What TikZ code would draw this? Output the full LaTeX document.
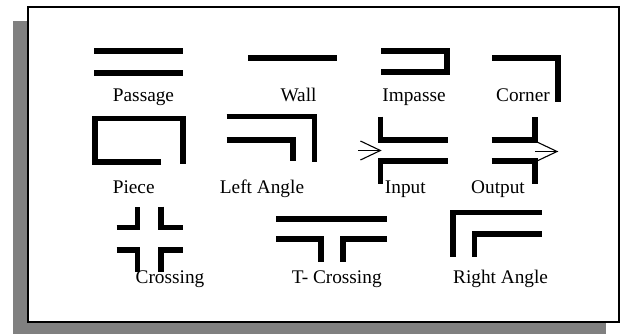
\documentclass[tikz,border=0pt]{standalone}
\usepackage{fontspec}
\setmainfont{Liberation Serif}
\usetikzlibrary{arrows.meta}
\definecolor{shadowgray}{HTML}{808080}
\begin{document}
\begin{tikzpicture}[x=1pt,y=-1pt,
  wallline/.style={line width=5.5pt,line cap=butt,line join=miter},
  lbl/.style={anchor=base,inner sep=0pt,font=\fontsize{19.3}{20}\selectfont},
  flow/.style={line width=1.1pt,-{Straight Barb[length=20pt,width=19pt,line width=1.1pt]}}]
\useasboundingbox (0,0) rectangle (621,334);
% shadow and frame
\fill[shadowgray] (13,21) rectangle (606,334);
\fill[white] (28,7) rectangle (619,322);
\draw[line width=1.6pt] (28,7) rectangle (619,322);
% Passage
\draw[wallline] (94,50.8) -- (183,50.8);
\draw[wallline] (94,72.8) -- (183,72.8);
\node[lbl] (passage) at (143.5,102) {Passage};
% Wall
\draw[wallline] (248,58) -- (336.6,58);
\node[lbl] (wall) at (298.5,102) {Wall};
% Impasse
\draw[wallline] (381,51) -- (447,51) -- (447,72) -- (381,72);
\node[lbl] (impasse) at (414,102) {Impasse};
% Corner
\draw[wallline] (492,58) -- (558,58) -- (558,101.7);
\node[lbl] (corner) at (523,102) {Corner};
% Piece
\draw[wallline] (161,161.8) -- (94.8,161.8) -- (94.8,118.4) -- (182.8,118.4) -- (182.8,164.3);
\node[lbl] (piece) at (133.7,193.5) {Piece};
% Left Angle
\draw[wallline] (226.7,116.5) -- (314.5,116.5) -- (314.5,161.7);
\draw[wallline] (226.7,140) -- (293,140) -- (293,161);
\node[lbl] (leftangle) at (262,193.5) {Left Angle};
% Input
\draw[wallline] (380.5,116.7) -- (380.5,140) -- (447.7,140);
\draw[wallline] (447.7,161.2) -- (380.5,161.2) -- (380.5,183.7);
\coordinate (inA) at (358.3,150.5);
\coordinate (inB) at (381.7,150.5);
\draw[flow] (inA) -- (inB);
\node[lbl] (input) at (405.3,193.5) {Input};
% Output
\draw[wallline] (491.7,140) -- (535,140) -- (535,116.7);
\draw[wallline] (491.7,161.2) -- (535,161.2) -- (535,183.7);
\coordinate (outA) at (535,151.5);
\coordinate (outB) at (558.3,151.5);
\draw[flow] (outA) -- (outB);
\node[lbl] (output) at (498,193.5) {Output};
% Crossing
\draw[wallline] (116.7,227.5) -- (137.5,227.5) -- (137.5,206.7);
\draw[wallline] (160.8,206.7) -- (160.8,227.5) -- (182.7,227.5);
\draw[wallline] (116.7,250.2) -- (137.5,250.2) -- (137.5,271.7);
\draw[wallline] (182.7,250.2) -- (160.8,250.2) -- (160.8,271.7);
\node[lbl] (crossing) at (170,283.5) {Crossing};
% T- Crossing
\draw[wallline] (276,219) -- (387,219);
\draw[wallline] (276,239) -- (321,239) -- (321,262);
\draw[wallline] (387,239) -- (343,239) -- (343,262);
\node[lbl] (tcrossing) at (336.7,283.5) {T- Crossing};
% Right Angle
\draw[wallline] (452.8,256.5) -- (452.8,212.3) -- (541.8,212.3);
\draw[wallline] (474.5,256.5) -- (474.5,234) -- (541.8,234);
\node[lbl] (rightangle) at (500.6,283.5) {Right Angle};
\end{tikzpicture}
\end{document}
